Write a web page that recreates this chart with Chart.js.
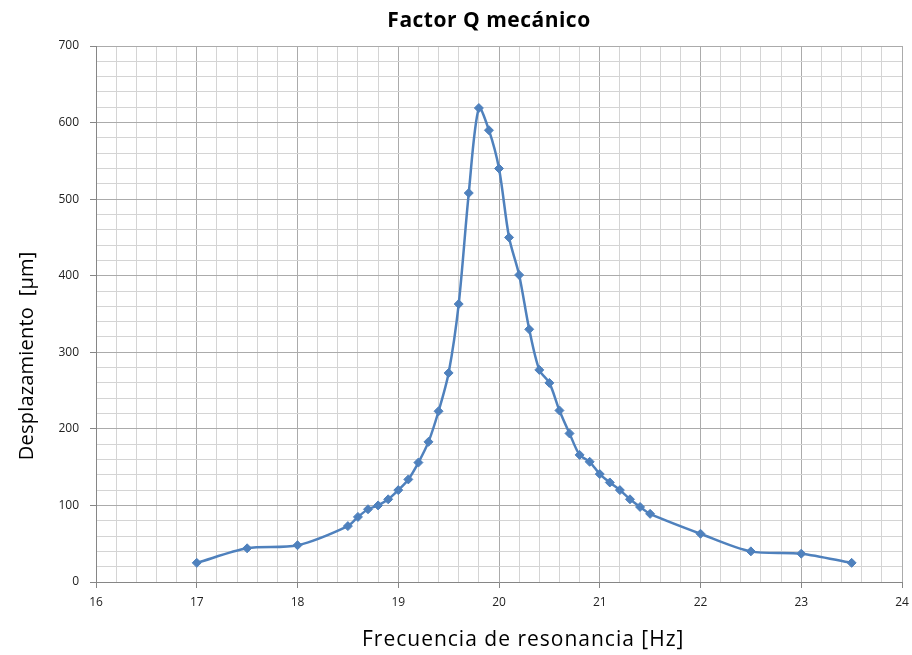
<!DOCTYPE html>
<html>
<head>
<meta charset="utf-8">
<script src="https://cdn.jsdelivr.net/npm/chart.js@4.4.0/dist/chart.umd.min.js"></script>
<style>
    body { margin: 0; background: #fff; }
    #wrap { width: 912px; height: 655px; }
</style>
</head>
<body>
<div id="wrap"><canvas id="chart" width="912" height="655"></canvas></div>
<script>
// frecuencia (Hz) y desplazamiento (um)
var frecuencia = [17, 17.5, 18, 18.5, 18.6, 18.7, 18.8, 18.9, 19.0, 19.1, 19.2, 19.3, 19.4, 19.5, 19.6, 19.7, 19.8,
    19.9, 20.0, 20.1, 20.2, 20.3, 20.4, 20.5, 20.6, 20.7, 20.8, 20.9, 21.0, 21.1, 21.2, 21.3, 21.4, 21.5, 22, 22.5, 23, 23.5];
var desplazamiento = [25, 44, 48, 73, 85, 95, 100, 108, 120, 134, 156, 183, 223, 273, 363, 508, 619,
    590, 540, 450, 401, 330, 277, 260, 224, 194, 166, 157, 141, 130, 120, 108, 98, 89, 63, 40, 37, 25];

var xTicks = [16, 17, 18, 19, 20, 21, 22, 23, 24];
var yTicks = [0, 100, 200, 300, 400, 500, 600, 700];

var titulo = 'Factor Q mecánico';
var tituloX = 'Frecuencia de resonancia [Hz]';
var tituloY = 'Desplazamiento  [μm]';

function isMajor(v, list) {
    for (var i = 0; i < list.length; i++) {
        if (Math.abs(v - list[i]) < 1e-6) return true;
    }
    return false;
}

// titles placed like the Excel original (a bit off the plot centre)
var titulos = {
    id: 'titulos',
    afterDraw: function (chart) {
        var ctx = chart.ctx, a = chart.chartArea;
        ctx.save();
        ctx.fillStyle = '#000';
        ctx.textAlign = 'center';
        ctx.textBaseline = 'alphabetic';
        ctx.font = 'bold 21px "Open Sans"';
        ctx.letterSpacing = '0.5px';
        ctx.fillText(titulo, a.left + a.width * 0.4876, 27);
        ctx.font = '21px "Open Sans"';
        ctx.letterSpacing = '1px';
        ctx.fillText(tituloX, a.left + a.width * 0.530, 646);
        ctx.font = '20px "Open Sans"';
        ctx.letterSpacing = '0.2px';
        ctx.translate(33, a.top + a.height * 0.578);
        ctx.rotate(-Math.PI / 2);
        ctx.fillText(tituloY, 0, 0);
        ctx.restore();
    }
};

var puntos = frecuencia.map(function (f, i) { return { x: f, y: desplazamiento[i] }; });

new Chart(document.getElementById('chart'), {
    type: 'scatter',
    data: {
        datasets: [{
            data: puntos,
            showLine: true,
            tension: 0.3,
            borderColor: '#4F81BD',
            backgroundColor: '#4F81BD',
            borderWidth: 2.5,
            pointStyle: 'rectRot',
            pointRadius: 4.5,
            pointBorderWidth: 1,
            pointBorderColor: '#4F81BD'
        }]
    },
    options: {
        responsive: false,
        animation: false,
        layout: { padding: { left: 0, right: 10, top: 46, bottom: 0 } },
        plugins: {
            legend: { display: false },
            tooltip: { enabled: false },
            title: { display: false }
        },
        scales: {
            x: {
                type: 'linear',
                min: 16,
                max: 24,
                afterFit: function (s) { s.height = 73; s.paddingRight = 0; s.paddingLeft = 0; },
                ticks: {
                    stepSize: 0.2,
                    autoSkip: false,
                    maxRotation: 0,
                    padding: 7,
                    color: '#222',
                    font: { family: 'Open Sans', size: 12 },
                    callback: function (v) { return isMajor(v, xTicks) ? String(Math.round(v)) : ''; }
                },
                grid: {
                    color: function (c) { return isMajor(c.tick.value, xTicks) ? '#ABABAB' : '#D4D4D4'; },
                    tickColor: function (c) { return isMajor(c.tick.value, xTicks) ? '#868686' : 'rgba(0,0,0,0)'; },
                    tickLength: 6
                },
                border: { color: '#868686' }
            },
            y: {
                min: 0,
                max: 700,
                afterFit: function (s) { s.width = 96; s.paddingTop = 0; s.paddingBottom = 0; },
                ticks: {
                    stepSize: 20,
                    autoSkip: false,
                    padding: 11,
                    color: '#222',
                    font: { family: 'Open Sans', size: 12 },
                    callback: function (v) { return isMajor(v, yTicks) ? String(Math.round(v)) : ''; }
                },
                grid: {
                    color: function (c) { return isMajor(c.tick.value, yTicks) ? '#ABABAB' : '#D4D4D4'; },
                    tickColor: function (c) { return isMajor(c.tick.value, yTicks) ? '#868686' : 'rgba(0,0,0,0)'; },
                    tickLength: 6
                },
                border: { color: '#868686' }
            }
        }
    },
    plugins: [titulos]
});
</script>
</body>
</html>
